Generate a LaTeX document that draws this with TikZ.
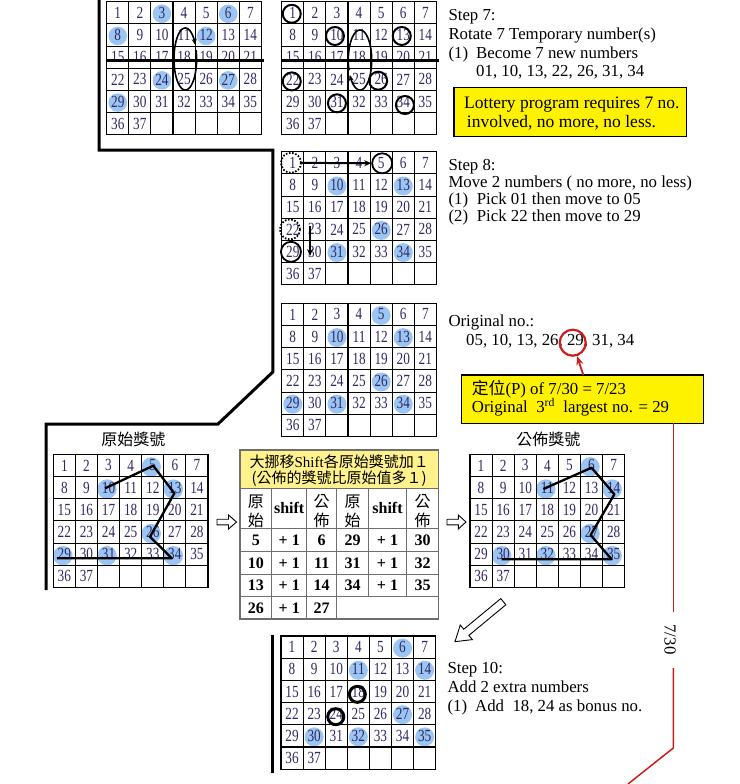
\documentclass[tikz,border=0pt]{standalone}
\usepackage{fontspec}
\setmainfont{Liberation Serif}
\newfontfamily\numfont[FakeStretch=0.78]{Liberation Serif}
\newfontfamily\cjk{Noto Sans CJK TC}
\usetikzlibrary{arrows.meta,calc}
\pgfdeclarelayer{bg}
\pgfsetlayers{bg,main}
\definecolor{numcol}{RGB}{50,40,100}
\definecolor{dotblue}{RGB}{155,197,242}
\definecolor{redl}{RGB}{205,30,30}
\definecolor{tblline}{RGB}{110,110,110}
\definecolor{tblhead}{RGB}{255,242,140}
\newcommand{\lotgrid}[3]{%
  \foreach \rr in {0,...,5}{%
    \foreach \cc in {0,...,6}{%
      \pgfmathtruncatemacro{\cellno}{\rr*7+\cc+1}%
      \ifnum\cellno<38
        \node[cell] (#1-\cellno) at ({#2+(\cc+0.5)*22.1},{#3+(\rr+0.5)*22.2}) {\cellno};
      \else
        \node[cell] (#1-\cellno) at ({#2+(\cc+0.5)*22.1},{#3+(\rr+0.5)*22.2}) {};
      \fi
    }%
  }%
  \foreach \cc in {0,...,7} \draw[gridline] ({#2+\cc*22.1},#3) -- ({#2+\cc*22.1},{#3+133.2});
  \foreach \rr in {0,...,6} \draw[gridline] (#2,{#3+\rr*22.2}) -- ({#2+154.7},{#3+\rr*22.2});
}
\tikzset{
  cell/.style={minimum width=22.1pt, minimum height=22.2pt, inner sep=0pt, outer sep=0pt, text=numcol, font=\numfont\fontsize{17}{17}\selectfont},
  gridline/.style={draw=black, line width=1.1pt, line cap=rect},
  ring/.style={draw=black, circle, line width=2pt, minimum size=18pt, inner sep=0pt},
  thickring/.style={draw=black, circle, line width=3pt, minimum size=16pt, inner sep=0pt},
  dotring/.style={draw=black, circle, line width=1.8pt, dash pattern=on 1.6pt off 1.6pt, minimum size=20pt, inner sep=0pt},
  solring/.style={draw=black, circle, line width=1.8pt, minimum size=20pt, inner sep=0pt},
  frameline/.style={line width=3pt, black},
  rowline/.style={line width=3pt, black},
  spin/.style={line width=1.6pt, -{Stealth[length=6pt,width=5pt]}},
  moveto/.style={line width=2pt, -{Stealth[length=7pt,width=6pt]}},
  poly/.style={line width=2.3pt, line join=round},
  txt/.style={anchor=base west, inner sep=0pt, font=\fontsize{16.8}{19}\selectfont},
  boxtxt/.style={anchor=base west, inner sep=0pt, font=\fontsize{17.5}{19}\selectfont},
  ybox/.style={draw=black, line width=1.2pt, fill=yellow, inner sep=0pt},
  redline/.style={draw=redl, line width=1.5pt},
  redring/.style={draw=redl, circle, line width=2.2pt, minimum size=26pt, inner sep=0pt},
  redarrow/.style={draw=redl, line width=1.8pt, -{Stealth[length=9pt,width=7pt]}},
  hollow/.style={draw=black, line width=0.9pt, fill=white, line join=miter},
  cjktitle/.style={inner sep=0pt, font=\cjk\fontsize{16}{16}\selectfont},
  tline/.style={draw=tblline, line width=1.2pt},
  tcell/.style={inner sep=0pt, font=\bfseries\fontsize{16}{16}\selectfont},
  thead/.style={inner sep=0pt, align=center, font=\cjk\fontsize{16}{19}\selectfont},
}
\begin{document}
\begin{tikzpicture}[x=1pt,y=-1pt]
\begin{pgfonlayer}{bg}\fill[white] (0,0) rectangle (739,784);\end{pgfonlayer}
\useasboundingbox (0,0) rectangle (739,784);

% grids
\lotgrid{ga}{106.7}{1.7}
\lotgrid{gb}{281.7}{1.7}
\lotgrid{gc}{281.7}{151.7}
\lotgrid{gd}{281.7}{303.3}
\lotgrid{ge}{53.3}{454.3}
\lotgrid{gf}{470}{454.3}
\lotgrid{gg}{281}{636}

% blue dots
\begin{pgfonlayer}{bg}
\foreach \k in {3,6,8,12,24,27,29} \fill[dotblue] ([yshift=-1pt]ga-\k.center) circle (9.3pt);
\foreach \k in {10,13,26,31,34} \fill[dotblue] ([yshift=-1pt]gc-\k.center) circle (9.5pt);
\foreach \k in {5,10,13,26,29,31,34} \fill[dotblue] ([yshift=-1pt]gd-\k.center) circle (9.5pt);
\foreach \k in {5,10,13,26,29,31,34} \fill[dotblue] ([shift={(-1.5pt,-1.5pt)}]ge-\k.center) circle (9.7pt);
\foreach \k in {6,11,14,27,30,32,35} \fill[dotblue] ([shift={(-1.5pt,-1.5pt)}]gf-\k.center) circle (9.7pt);
\foreach \k in {6,11,14,27,30,32,35} \fill[dotblue] ([yshift=-1pt]gg-\k.center) circle (9.5pt);
\end{pgfonlayer}

% thick frame lines
\coordinate (fa) at (99,0);
\coordinate (fb) at (99,150);
\coordinate (fc) at (272.8,150);
\coordinate (fd) at (272.8,372);
\coordinate (fe) at (218,424);
\coordinate (ff) at (46,424);
\coordinate (fg) at (46,590);
\draw[frameline, line join=miter] (fa) -- (fb) -- (fc) -- (fd) -- (fe) -- (ff) -- (fg);
\coordinate (fh) at (272.7,635);
\coordinate (fi) at (272.7,773);
\draw[frameline] (fh) -- (fi);

% step 7 grids decorations
\draw[rowline] ([yshift=-3.5pt]ga-15.west) -- ([xshift=3pt,yshift=-3.5pt]ga-21.east);
\draw[spin] plot[domain=0:350, samples=80, smooth] ({185.3+11.3*cos(377-\x)},{59-31*sin(377-\x)});
\draw[rowline] ([yshift=-3.5pt]gb-15.west) -- ([xshift=2.5pt,yshift=-3.5pt]gb-21.east);
\draw[spin] plot[domain=0:350, samples=80, smooth] ({360+11.7*cos(560-\x)},{60-30*sin(560-\x)});
\node[ring] (r1) at ([shift={(-1,1)}]gb-1) {};
\node[ring] (r10) at ([shift={(-2,1)}]gb-10) {};
\node[ring] (r13) at ([shift={(-1.5,1)}]gb-13) {};
\node[ring] (r22) at ([shift={(-1,2)}]gb-22) {};
\node[ring] (r26) at ([shift={(-3,1.3)}]gb-26) {};
\node[ring] (r31) at ([shift={(0,1.7)}]gb-31) {};
\node[ring] (r34) at ([shift={(1.7,3.4)}]gb-34) {};

% step 7 text
\node[txt] (s7a) at (448.3,20.7) {Step 7:};
\node[txt] (s7b) at (448.3,39.3) {Rotate 7 Temporary number(s)};
\node[txt] (s7c) at (448.3,58.3) {(1)};
\node[txt] (s7d) at (476,58.3) {Become 7 new numbers};
\node[txt] (s7e) at (476,76) {01, 10, 13, 22, 26, 31, 34};
\node[ybox, minimum width=232.7pt, minimum height=49.4pt] (box7) at (570.35,112) {};
\node[boxtxt] (b7a) at (464,108.3) {Lottery program requires 7 no.};
\node[boxtxt] (b7b) at (466.7,127.3) {involved, no more, no less.};

% step 8
\node[dotring] (d1) at ([shift={(-1.8,0)}]gc-1) {};
\node[dotring] (d22) at ([shift={(-2.8,0)}]gc-22) {};
\node[solring] (s5) at ([shift={(1,0.5)}]gc-5) {};
\node[solring] (s29) at ([shift={(-1.8,0.2)}]gc-29) {};
\draw[moveto] (d1) -- (s5);
\coordinate (v1) at (310,226);
\coordinate (v2) at (310,256);
\draw[moveto] (v1) -- (v2);
\node[txt] (s8a) at (448.3,170.7) {Step 8:};
\node[txt] (s8b) at (448.3,187.3) {Move 2 numbers ( no more, no less)};
\node[txt] (s8c) at (448.3,204) {(1)};
\node[txt] (s8d) at (476.7,204) {Pick 01 then move to 05};
\node[txt] (s8e) at (448.3,221.7) {(2)};
\node[txt] (s8f) at (476.7,221.7) {Pick 22 then move to 29};

% original
\node[txt] (oa) at (448.3,326.7) {Original no.:};
\node[txt] (ob) at (466,345.7) {05, 10, 13, 26, 29, 31, 34};
\node[redring] (rcirc) at (572.7,342.7) {};
\node[ybox, minimum width=241.6pt, minimum height=48.3pt] (callout) at (582.5,399.2) {};
\node[txt] (ca) at (471.7,394.3) {{\cjk 定位}(P) of 7/30 = 7/23};
\node[txt] (cb) at (471.7,412.7) {Original\ \ 3\textsuperscript{rd}\ \ largest no. = 29};
\coordinate (ar) at (583.3,375);
\draw[redarrow] (ar) -- (rcirc);

% red line and label
\coordinate (ra) at (673.3,423.3);
\coordinate (rb) at (673.3,612);
\node[rotate=-90, inner sep=0pt, font=\fontsize{16.8}{17}\selectfont] (l730) at (670,639.5) {7/30};
\coordinate (rd) at (673.3,668);
\coordinate (re) at (673.3,748);
\coordinate (rf) at (628,784);
\draw[redline] (ra) -- (rb);
\draw[redline] (rd) -- (re) -- (rf);

% bottom grids
\node[cjktitle] (tl) at (133.3,439.2) {原始獎號};
\node[cjktitle] (tr) at (548.3,439.2) {公佈獎號};
\draw[poly] ([shift={(-3.5,0.7)}]ge-10.center) -- ([shift={(0.5,0.3)}]ge-5.center) -- ([shift={(-0.5,5.7)}]ge-13.center) -- ([shift={(-2.7,4.7)}]ge-26.center) -- ([shift={(-3.1,4.1)}]ge-34.center) -- ([shift={(-7.6,4.1)}]ge-29.center);
\draw[poly] ([shift={(-4,1.4)}]gf-11.center) -- ([shift={(0,2.3)}]gf-6.center) -- ([shift={(0.7,6.7)}]gf-14.center) -- ([shift={(-0.9,3)}]gf-27.center) -- ([shift={(-2,5.1)}]gf-35.center) -- ([shift={(-1.5,5.1)}]gf-30.center);

% hollow arrows
\draw[hollow] (217,519.2) -- (228.5,519.2) -- (228.5,515) -- (236.5,522) -- (228.5,529) -- (228.5,524.8) -- (217,524.8) -- cycle;
\draw[hollow] (447,519.2) -- (458.3,519.2) -- (458.3,515) -- (466,522) -- (458.3,529) -- (458.3,524.8) -- (447,524.8) -- cycle;
\begin{scope}[shift={(503.3,601.7)}, rotate=219.6]
\draw[hollow] (0,-4) -- (48,-4) -- (48,-9.5) -- (62.7,0) -- (48,9.5) -- (48,4) -- (0,4) -- cycle;
\end{scope}

% table
\fill[tblhead] (240,450) rectangle (438.3,488.3);
\foreach \yy in {488.3,528.3,551.7,574.3,596.7} \draw[tline] (240,\yy) -- (438.3,\yy);
\foreach \xx in {271.7,306.7,336.7} \draw[tline] (\xx,488.3) -- (\xx,619);
\foreach \xx in {368.3,406.7} \draw[tline] (\xx,488.3) -- (\xx,596.7);
\draw[tline, line width=1.5pt] (240,450) rectangle (438.3,619);
\node[inner sep=0pt, font=\cjk\fontsize{15}{15}\selectfont] (tt1) at (339.2,461.5) {大挪移{\rmfamily Shift}各原始獎號加１};
\node[inner sep=0pt, font=\cjk\fontsize{15}{15}\selectfont] (tt2) at (339.2,478.5) {(公佈的獎號比原始值多１)};
\node[thead] (h1) at (255.85,511) {原\\始};
\node[tcell] (h2) at (289.2,508.3) {shift};
\node[thead] (h3) at (321.7,511) {公\\佈};
\node[thead] (h4) at (352.5,511) {原\\始};
\node[tcell] (h5) at (387.5,508.3) {shift};
\node[thead] (h6) at (422.5,511) {公\\佈};
\foreach \a/\b/\c/\d/\e/\f/\yy/\rn in {5/+ 1/6/29/+ 1/30/540/1, 10/+ 1/11/31/+ 1/32/563/2, 13/+ 1/14/34/+ 1/35/585.5/3}{
  \node[tcell] (t\rn-1) at (255.85,\yy) {\a};
  \node[tcell] (t\rn-2) at (289.2,\yy) {\b};
  \node[tcell] (t\rn-3) at (321.7,\yy) {\c};
  \node[tcell] (t\rn-4) at (352.5,\yy) {\d};
  \node[tcell] (t\rn-5) at (387.5,\yy) {\e};
  \node[tcell] (t\rn-6) at (422.5,\yy) {\f};
}
\node[tcell] (t4-1) at (255.85,607.85) {26};
\node[tcell] (t4-2) at (289.2,607.85) {+ 1};
\node[tcell] (t4-3) at (321.7,607.85) {27};

% step 10
\node[thickring] (b18) at ([shift={(-1,2.8)}]gg-18) {};
\node[thickring] (b24) at ([shift={(-0.5,3)}]gg-24) {};
\node[txt] (s10a) at (447.3,673.3) {Step 10:};
\node[txt] (s10b) at (447.3,692.3) {Add 2 extra numbers};
\node[txt] (s10c) at (447.3,711) {(1)};
\node[txt] (s10d) at (475,711) {Add\ \ 18, 24 as bonus no.};
\end{tikzpicture}
\end{document}
